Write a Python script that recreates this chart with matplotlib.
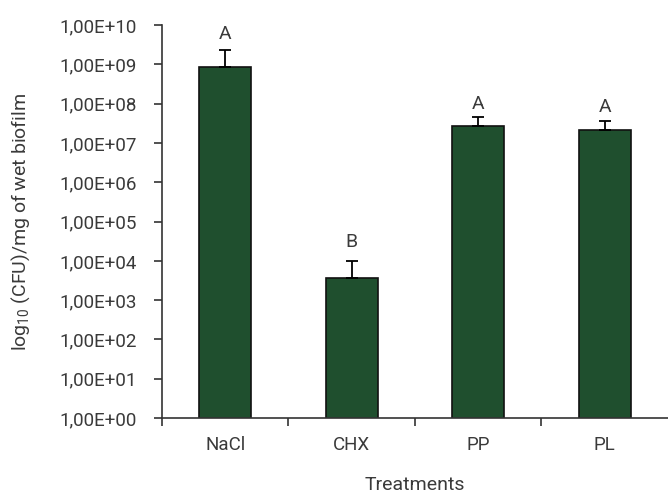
import numpy as np
import matplotlib
matplotlib.use("Agg")
import matplotlib.pyplot as plt
from matplotlib.ticker import FixedLocator, FuncFormatter

plt.rcParams["font.family"] = ["Roboto", "DejaVu Sans"]
plt.rcParams["mathtext.fontset"] = "custom"
plt.rcParams["mathtext.rm"] = "Roboto"
plt.rcParams["mathtext.it"] = "Roboto"

treatments = ["NaCl", "CHX", "PP", "PL"]
means = [8.5e8, 3.7e3, 2.7e7, 2.2e7]
err_top = [2.3e9, 1.0e4, 4.6e7, 3.7e7]
letters = ["A", "B", "A", "A"]
letter_y = [5.9e9, 3.0e4, 9.8e7, 8.1e7]

text_col = "#3a3a3a"
bar_col = "#1f4f2e"

fig = plt.figure(figsize=(6.68, 4.93), dpi=100)
ax = fig.add_axes([0.2425, 0.152, 0.7575, 0.797])

x = np.arange(len(treatments))
ax.bar(x, means, width=0.41, color=bar_col, edgecolor="#111111", linewidth=1.2, zorder=2)
yerr = [np.zeros(len(means)), np.array(err_top) - np.array(means)]
ax.errorbar(x, means, yerr=yerr, fmt="none", ecolor="black", elinewidth=1.3,
            capsize=4, capthick=1.3, zorder=3)
for xi, lab, ly in zip(x, letters, letter_y):
    ax.text(xi, ly, lab, ha="center", va="center", fontsize=14, color=text_col)

ax.set_yscale("log")
ax.set_ylim(1, 1e10)
ax.set_xlim(-0.5, 3.5)
ax.yaxis.set_major_locator(FixedLocator([10.0 ** k for k in range(11)]))
ax.yaxis.set_minor_locator(FixedLocator([]))
ax.yaxis.set_major_formatter(FuncFormatter(lambda v, p: "1,00E+%02d" % round(np.log10(v))))

ax.set_xticks(x)
ax.set_xticklabels(treatments)
ax.set_xticks([-0.5, 0.5, 1.5, 2.5], minor=True)
ax.tick_params(axis="x", which="major", length=0, pad=13, labelsize=13.5, labelcolor=text_col)
ax.tick_params(axis="x", which="minor", length=6, width=1.2, color="#333333", direction="out")
ax.tick_params(axis="y", which="major", length=6, width=1.2, color="#333333", pad=12,
               labelsize=13.5, labelcolor=text_col)

for s in ["top", "right"]:
    ax.spines[s].set_visible(False)
for s in ["left", "bottom"]:
    ax.spines[s].set_color("#333333")
    ax.spines[s].set_linewidth(1.2)

ax.set_xlabel("Treatments", fontsize=14, color=text_col, labelpad=16)
ax.set_ylabel("log$_{10}$ (CFU)/mg of wet biofilm", fontsize=14, color=text_col, labelpad=20)

fig.savefig("out.png", dpi=100)
